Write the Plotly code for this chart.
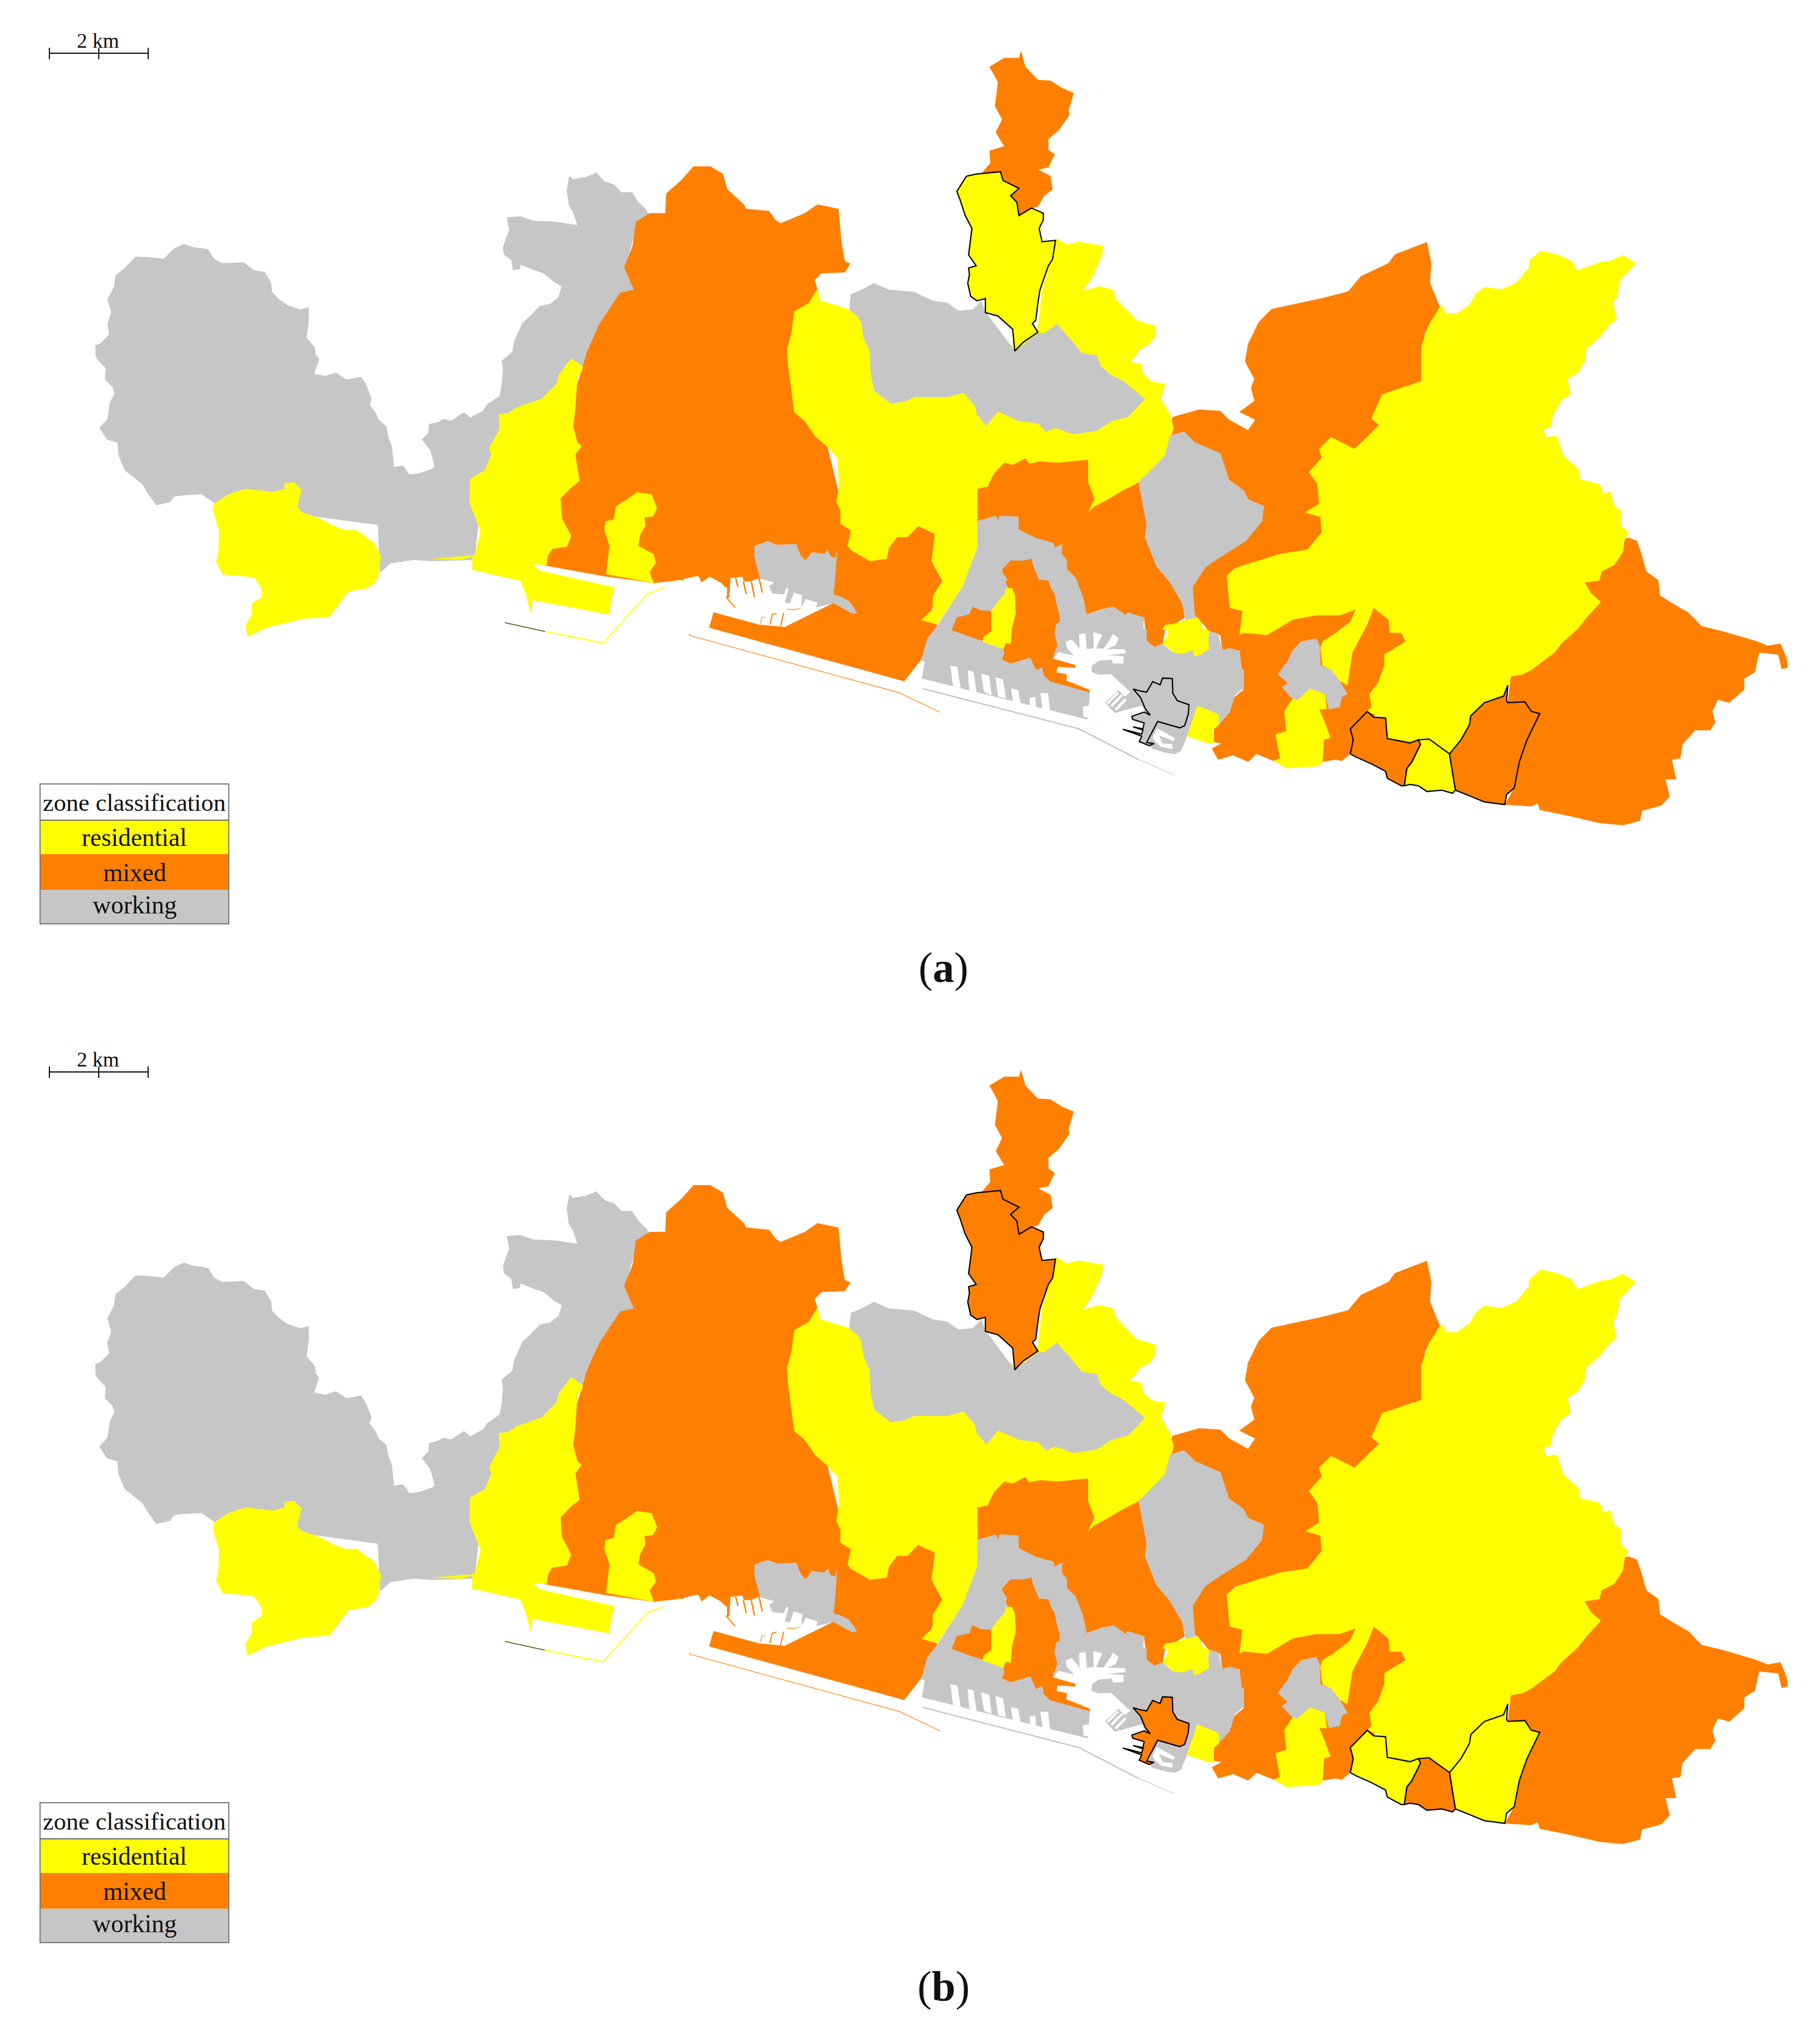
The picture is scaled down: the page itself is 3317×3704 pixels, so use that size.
import plotly.graph_objects as go

crops = {
    "A": (0, 0, 1.3067, 1.2544),
    "B": (1000, 50, 1.3067, 1.2544),
    "C": (2100, 400, 1.2884, 1.2544),
    "D": (1650, 900, 2.24, 2.613),
    "F": (900, 950, 1.742, 3.0),
    "G": (1300, 1030, 3.0, 3.0),
}

yellow = "#FFFF00"
orange = "#FF7F00"
grey = "#C6C6C6"
white = "#FFFFFF"

panel_offset = 1857
panel_captions = ["a", "b"]
legend_title = "zone classification"
legend_labels = ["residential", "mixed", "working"]
legend_colors = [yellow, orange, grey]
scale_label = "2 km"

grey_west = [(237,978),(256,958),(262,920),(273,900),(268,885),(250,868),(252,842),(236,826),(228,815),(227,790),(240,785),(260,765),(256,740),(265,715),(256,685),(272,655),(275,630),(295,615),(323,587),(350,588),(390,592),(415,568),(438,558),(460,565),(495,570),(510,592),(530,602),(580,600),(605,618),(630,622),(645,645),(648,668),(665,685),(685,698),(715,708),(735,703),(735,735),(730,772),(750,795),(752,812),(760,820),(748,855),(775,860),(800,852),(825,868),(860,862),(872,880),(885,912),(880,925),(895,945),(902,960),(920,975),(925,1000),(933,1020),(938,1065),(934,1068),(960,1065),(975,1085),(1000,1082),(1030,1072),(1035,1065),(1025,1030),(1005,1005),(1020,990),(1022,970),(1045,965),(1055,958),(1075,962),(1105,943),(1120,955),(1150,940),(1160,925),(1190,905),(1195,880),(1198,845),(1195,825),(1220,805),(1225,780),(1245,738),(1265,720),(1285,700),(1310,695),(1330,680),(1338,655),(1320,645),(1295,625),(1265,615),(1240,605),(1238,615),(1222,618),(1218,595),(1200,582),(1198,565),(1205,545),(1213,525),(1207,497),(1240,495),(1270,505),(1320,507),(1375,515),(1365,485),(1355,470),(1350,435),(1356,402),(1365,410),(1395,405),(1420,395),(1440,415),(1462,422),(1480,440),(1505,440),(1520,462),(1540,480),(1545,495),(1515,520),(1490,610),(1510,660),(1450,800),(1390,835),(1150,1100),(1130,1280),(1030,1283),(985,1280),(930,1288),(905,1310),(900,1200),(510,1150),(480,1130),(440,1132),(415,1135),(405,1148),(372,1155),(350,1125),(340,1108),(297,1075),(282,1040),(280,1012),(255,1005)]
orange_west = [(80,780),(90,745),(120,680),(170,607),(203,600),(180,548),(200,500),(208,445),(240,425),(278,425),(280,380),(315,350),(345,318),(385,318),(415,335),(425,370),(465,405),(470,415),(525,420),(540,440),(552,448),(610,425),(640,405),(690,415),(697,490),(705,535),(718,540),(705,560),(650,562),(633,578),(640,598),(620,630),(585,650),(700,1100),(720,1180),(300,1265),(250,1270),(135,1255),(-10,1230),(-10,1000),(60,840)]
orange_port = [(510,340),(555,307),(585,315),(600,325),(610,295),(650,300),(660,335),(685,302),(720,335),(735,360),(742,365),(745,400),(698,497),(684,582),(1303,875),(1355,760),(1408,572),(1390,480),(1425,330),(1395,240),(1400,40),(1100,-30),(510,-30)]
yellow_pra = [(510,1152),(545,1130),(585,1118),(650,1125),(678,1118),(678,1105),(700,1103),(718,1120),(712,1140),(708,1160),(720,1172),(760,1185),(800,1205),(825,1213),(850,1212),(880,1235),(890,1240),(907,1272),(903,1300),(900,1320),(890,1335),(875,1345),(830,1352),(800,1390),(785,1410),(720,1415),(635,1435),(590,1456),(585,1430),(600,1405),(600,1380),(625,1365),(622,1345),(605,1320),(530,1313),(515,1285),(520,1265),(522,1215),(508,1170)]
yellow_sestri = [(1120,1095),(1155,1075),(1170,1040),(1165,1025),(1190,980),(1188,948),(1210,945),(1230,932),(1290,912),(1325,878),(1332,855),(1360,820),(1388,838),(1385,850),(1375,860),(1370,935),(1365,975),(1375,1012),(1385,1020),(1370,1040),(1380,1100),(1360,1115),(1335,1140),(1338,1185),(1360,1225),(1350,1250),(1315,1255),(1305,1270),(1302,1292),(1268,1290),(1285,1305),(1462,1343),(1450,1405),(1268,1372),(1265,1400),(1255,1365),(1240,1328),(1125,1303),(1125,1272),(1100,1280),(1030,1278),(1100,1273),(1130,1270),(1145,1215),(1130,1180),(1118,1150)]
yellow_patch = [(135,1130),(155,1125),(160,1095),(185,1080),(210,1063),(245,1068),(258,1100),(248,1118),(228,1120),(230,1140),(218,1160),(213,1185),(250,1205),(255,1225),(240,1245),(250,1270),(137,1250),(145,1185),(133,1150)]
orange_north = [(1125,55),(1135,90),(1165,120),(1195,122),(1225,140),(1250,150),(1238,190),(1240,200),(1215,235),(1190,255),(1190,280),(1205,290),(1190,320),(1165,325),(1195,340),(1200,370),(1180,385),(1165,410),(1150,413),(1120,430),(1100,385),(1075,335),(1030,335),(1052,310),(1050,282),(1085,272),(1065,240),(1080,210),(1063,180),(1070,125),(1050,90),(1085,70),(1120,70)]
orange_central = [(295,-200),(1000,-200),(985,150),(980,210),(1025,345),(1080,420),(1130,520),(1140,590),(1060,650),(1050,715),(1015,730),(985,700),(975,590),(740,575),(295,130)]
orange_east = [(48,452),(110,435),(160,438),(180,458),(225,482),(242,458),(205,440),(240,415),(232,385),(240,365),(218,325),(225,285),(250,235),(280,205),(400,180),(460,165),(490,130),(555,100),(570,80),(645,52),(655,100),(652,145),(675,200),(640,260),(632,370),(600,600),(600,960),(515,1150),(465,1222),(445,1238),(430,1235),(400,1240),(390,1250),(285,1238),(245,1222),(225,1240),(190,1225),(155,1235),(140,1210),(163,1198),(145,1195),(145,1165),(178,1130),(190,1095),(215,1075),(205,985),(165,985),(160,950),(135,945),(120,925),(100,905),(92,840),(0,600)]
orange_far_east = [(842,1045),(870,1040),(890,1030),(945,990),(960,970),(1000,935),(1020,910),(1053,875),(1030,855),(1015,830),(1050,825),(1055,805),(1085,790),(1105,760),(1110,730),(1118,728),(1138,735),(1150,770),(1160,805),(1188,825),(1192,860),(1225,880),(1260,900),(1290,930),(1340,942),(1420,965),(1445,975),(1475,970),(1490,1005),(1492,1025),(1478,1028),(1470,995),(1425,990),(1415,1035),(1390,1050),(1390,1075),(1355,1105),(1328,1098),(1315,1125),(1322,1150),(1310,1168),(1275,1168),(1245,1200),(1240,1232),(1220,1235),(1230,1280),(1205,1280),(1215,1320),(1195,1340),(1150,1352),(1145,1375),(1105,1385),(1050,1380),(985,1365),(910,1350),(905,1335),(890,1342),(828,1338),(850,1300),(862,1240),(880,1190),(910,1130),(890,1125),(875,1103),(835,1105)]
yellow_central = [(640,598),(648,625),(715,645),(1040,700),(1110,730),(1165,690),(1175,600),(1200,520),(1210,483),(1235,497),(1262,490),(1320,500),(1318,520),(1295,570),(1272,603),(1310,592),(1345,600),(1350,620),(1385,655),(1400,670),(1445,683),(1445,705),(1430,725),(1410,735),(1385,765),(1412,770),(1415,790),(1435,810),(1468,815),(1458,850),(1480,885),(1488,915),(1475,965),(1468,983),(1405,1040),(1365,1060),(1330,1080),(1300,1095),(1285,1108),(1300,1078),(1285,1040),(1285,988),(1215,995),(1170,992),(1145,997),(1135,985),(1105,1000),(1085,995),(1060,1020),(1045,1050),(1020,1055),(1022,1185),(985,1280),(925,1365),(888,1355),(915,1330),(915,1300),(938,1265),(912,1220),(920,1158),(880,1140),(855,1165),(830,1165),(810,1190),(805,1215),(765,1220),(720,1195),(712,1185),(720,1150),(695,1135),(695,1105),(685,1085),(692,1050),(688,985),(665,960),(635,935),(610,900),(585,880),(578,830),(570,770),(568,735),(578,700),(585,650),(620,630)]
yellow_east = [(680,195),(690,215),(715,215),(745,195),(760,170),(780,155),(820,160),(855,145),(885,110),(885,95),(912,72),(950,80),(985,95),(998,117),(1055,97),(1075,95),(1105,82),(1135,100),(1110,128),(1100,135),(1090,180),(1082,190),(1090,228),(1075,240),(1050,270),(1020,295),(1015,325),(1000,350),(975,365),(982,400),(960,415),(940,450),(935,475),(918,480),(925,498),(950,495),(965,540),(1000,570),(1005,595),(1050,605),(1060,628),(1075,622),(1085,655),(1100,665),(1100,700),(1118,715),(1108,735),(1105,760),(1085,790),(1055,805),(1050,825),(1015,830),(1030,855),(1053,875),(1020,910),(1000,935),(960,970),(945,990),(890,1030),(870,1040),(842,1045),(838,1065),(825,1090),(780,1105),(748,1135),(745,1155),(725,1190),(698,1222),(650,1188),(625,1190),(605,1195),(552,1187),(545,1140),(505,1125),(515,1115),(510,1085),(530,1060),(545,1020),(545,995),(595,965),(585,945),(558,945),(555,915),(520,888),(505,925),(470,990),(458,1065),(440,1055),(420,1030),(400,1020),(395,980),(400,965),(425,950),(465,920),(478,892),(440,905),(385,905),(330,915),(270,950),(215,945),(205,950),(212,895),(182,888),(175,815),(195,797),(300,765),(365,755),(398,715),(395,680),(360,670),(392,650),(388,605),(368,578),(398,545),(392,525),(420,498),(475,525),(533,470),(515,455),(540,400),(632,370),(632,290),(650,240)]
grey_hills = [(716,645),(720,610),(745,600),(775,585),(810,600),(870,605),(915,625),(950,630),(975,648),(1010,645),(1030,625),(1040,650),(1110,740),(1165,700),(1180,700),(1210,678),(1240,710),(1270,745),(1305,750),(1315,775),(1335,792),(1370,810),(1420,850),(1380,890),(1340,900),(1305,922),(1250,930),(1205,915),(1185,925),(1165,905),(1120,900),(1070,878),(1043,910),(1020,885),(1015,865),(988,835),(950,845),(870,845),(850,855),(815,860),(775,830),(767,790),(765,740),(750,710),(745,675),(735,660)]
grey_bisagno = [(0,570),(30,540),(42,495),(75,485),(100,510),(160,535),(180,595),(215,620),(225,640),(262,655),(258,690),(220,735),(160,772),(125,795),(95,840),(100,905),(120,925),(80,925),(76,903),(70,877),(41,829),(10,793),(-17,727),(-13,699),(-32,601)]
grey_lobe = [(295,1040),(318,1010),(330,985),(350,965),(385,958),(393,975),(395,1020),(420,1030),(440,1055),(458,1085),(445,1092),(440,1115),(415,1120),(405,1085),(370,1073),(340,1100),(325,1092),(305,1070),(318,1060)]
grey_harbour = [(295,130),(370,105),(378,130),(385,105),(462,110),(462,170),(530,210),(605,235),(610,258),(640,240),(638,285),(660,320),(660,360),(695,400),(725,490),(740,575),(800,550),(850,538),(900,578),(907,565),(975,590),(970,640),(985,650),(985,700),(1015,730),(1050,715),(1090,755),(1130,762),(1175,745),(1180,775),(1235,740),(1240,655),(1275,665),(1295,745),(1325,735),(1365,750),(1370,830),(1382,840),(1382,925),(1345,960),(1325,1040),(1280,1100),(1255,1125),(1150,1155),(1125,1225),(1100,1240),(1060,1232),(1010,1215),(985,1190),(745,1075),(68,880),(80,800),(65,795),(90,690),(130,630),(235,440),(295,255)]
orange_samp = [(600,785),(695,815),(695,830),(622,825),(618,850),(660,860),(655,890),(755,930),(750,945),(590,893),(565,865),(560,825),(535,840),(510,780),(430,808),(395,790),(405,760),(400,740),(415,710),(430,715),(435,640),(450,570),(440,470),(420,450),(410,420),(418,410),(397,375),(397,360),(430,318),(480,320),(515,310),(520,340),(545,410),(585,415),(590,440),(610,480),(615,520),(630,580),(630,610),(615,620),(608,665),(620,720)]
yellow_samp = [(410,450),(435,450),(447,480),(450,570),(435,640),(430,715),(408,710),(400,740),(315,705),(320,680),(350,655),(350,560),(380,510),(405,480)]
orange_small = [(210,590),(262,575),(275,538),(305,555),(350,560),(350,655),(320,680),(315,700),(275,685),(190,650)]
yellow_foce = [(1095,620),(1150,600),(1195,590),(1215,640),(1243,655),(1235,685),(1240,740),(1205,765),(1180,775),(1175,745),(1130,762),(1090,755),(1085,745),(1052,715),(1072,670),(1072,648),(1050,648),(1060,625)]
yellow_shore = [(1192,1010),(1280,1052),(1280,1100),(1255,1125),(1258,1190),(1240,1190),(1150,1155)]
yellow_albaro = [(310,1125),(330,1095),(340,1100),(370,1073),(405,1085),(410,1120),(392,1120),(405,1150),(418,1185),(403,1190),(400,1240),(390,1250),(315,1255),(285,1238),(300,1232),(290,1178),(315,1170)]

# white cut-outs: docks and piers
dock_main = [(625,755),(690,772),(660,735),(655,705),(680,695),(712,740),(710,670),(735,665),(740,740),(770,738),(768,660),(803,672),(778,738),(810,738),(838,690),(848,668),(870,690),(858,722),(820,740),(895,742),(900,760),(820,768),(890,775),(890,808),(848,808),(842,790),(790,795),(760,820),(760,850),(790,862),(840,860),(918,945),(895,965),(870,935),(815,995),(855,1045),(965,1010),(975,1030),(985,1060),(1030,1085),(985,1195),(745,1075),(755,935),(660,890),(660,860),(618,850),(622,825),(695,830),(695,815),(605,785)]
dock_west = [(95,72),(125,68),(160,65),(165,90),(205,90),(250,72),(335,95),(500,100),(655,207),(620,225),(550,260),(500,285),(430,320),(390,338),(250,325),(0,257),(0,180),(88,180)]
pier_1 = [(185,820),(212,825),(225,925),(195,915)]
pier_2 = [(255,842),(278,848),(290,945),(262,935)]
pier_3 = [(310,858),(342,868),(352,958),(322,945)]
pier_4 = [(368,875),(398,885),(410,975),(380,965)]
pier_5 = [(432,928),(460,935),(470,1000),(440,990)]
pier_6 = [(508,972),(530,968),(535,1030),(510,1018)]
pier_7 = [(552,950),(582,950),(590,1035),(562,1035)]
pier_8 = [(725,1015),(750,1010),(745,1065),(728,1062)]
stripe_1 = [(822,995),(866,945),(872,950),(828,1002)]
stripe_2 = [(838,1008),(882,955),(888,962),(844,1016)]
stripe_3 = [(856,1024),(896,975),(902,985),(862,1032)]
stripe_4 = [(1028,1118),(1100,1165),(1095,1178),(1035,1150),(1050,1190),(1090,1195),(1090,1215),(1045,1205),(1020,1180),(1010,1160)]

grey_sestri_docks = [(226,-45),(226,-105),(298,-130),(350,-110),(453,-115),(479,-50),(505,-25),(539,-70),(608,-60),(625,-85),(643,-45),(668,-40),(677,-75),(658,162),(700,175),(740,195),(770,235),(785,265),(755,262),(655,207),(630,215),(565,230),(570,205),(505,185),(482,228),(487,165),(440,150),(418,210),(392,205),(412,128),(400,125),(386,160),(325,155),(305,115),(335,95),(255,70)]

# outlined zones, they change class between the two panels
zone_rivarolo = [(995,340),(1020,335),(1076,330),(1082,350),(1120,368),(1100,385),(1115,400),(1120,430),(1150,413),(1178,425),(1178,440),(1168,460),(1175,490),(1207,487),(1200,530),(1190,545),(1170,600),(1165,630),(1160,670),(1152,677),(1165,697),(1130,720),(1110,740),(1105,690),(1070,660),(1040,652),(1040,620),(1020,625),(1005,615),(998,585),(1002,565),(1000,550),(1018,545),(1000,520),(1008,460),(992,430),(980,395),(972,375)]
zone_port = [(930,930),(960,940),(985,945),(1010,895),(1040,910),(1050,878),(1090,880),(1092,950),(1110,985),(1158,1005),(1155,1050),(1140,1105),(1120,1115),(1030,1085),(985,1185),(1015,1190),(995,1200),(955,1180),(965,1155),(888,1122),(965,1145),(970,1125),(930,1110),(970,1120),(975,1092),(928,1075),(925,1060),(975,1040),(1000,1055),(980,1025),(960,970)]
zone_sturla = [(465,1222),(472,1190),(465,1165),(505,1125),(520,1138),(548,1140),(552,1187),(605,1197),(625,1190),(630,1200),(610,1240),(598,1255),(592,1295),(585,1295),(552,1278),(548,1262),(515,1245),(480,1230)]
zone_quarto = [(592,1295),(598,1255),(610,1240),(630,1200),(625,1190),(650,1188),(698,1222),(712,1305),(705,1312),(680,1305),(645,1308),(625,1295),(605,1292)]
zone_quinto = [(698,1222),(725,1190),(745,1155),(748,1135),(780,1105),(825,1090),(835,1065),(832,1100),(835,1105),(875,1103),(890,1125),(910,1130),(880,1190),(862,1240),(850,1300),(832,1315),(828,1338),(780,1332),(750,1320),(712,1305)]

# thin breakwaters and jetties
line_yellow = [(162,603),(347,667),(488,398),(540,365)]
line_sliver = [(105,420),(120,505)]
line_black = [(35,555),(162,603)]
line_orange = [(622,615),(622,625),(1287,938),(1417,1045)]
line_grey = [(70,928),(710,1120),(950,1265)]
line_grey_end = [(950,1265),(1100,1340)]
jetty_1 = [(78,125),(78,185),(120,232)]
jetty_2 = [(258,320),(265,285),(285,285)]
jetty_3 = [(310,325),(322,270),(345,265)]
jetty_4 = [(368,335),(385,262)]
jetty_5 = [(403,241),(440,245),(478,237)]
jetty_6 = [(122,70),(135,120)]
jetty_7 = [(165,90),(180,160)]
jetty_8 = [(208,90),(225,175)]
jetty_9 = [(250,72),(268,150)]

# paint order matters, later zones sit on top of earlier ones
fill_layers = [
    ("A", grey_west, grey), ("B", orange_west, orange), ("F", orange_port, orange),
    ("A", yellow_pra, yellow), ("A", yellow_sestri, yellow), ("B", yellow_patch, yellow),
    ("B", orange_north, orange), ("D", orange_central, orange),
    ("C", orange_east, orange), ("C", orange_far_east, orange),
    ("B", yellow_central, yellow), ("C", yellow_east, yellow),
    ("B", grey_hills, grey), ("D", grey_harbour, grey), ("C", grey_bisagno, grey),
    ("D", orange_samp, orange), ("D", yellow_samp, yellow), ("D", orange_small, orange),
    ("D", yellow_foce, yellow), ("D", yellow_shore, yellow),
    ("C", grey_lobe, grey), ("C", yellow_albaro, yellow),
    ("D", dock_main, white), ("G", dock_west, white), ("G", grey_sestri_docks, grey),
    ("D", pier_1, white), ("D", pier_2, white), ("D", pier_3, white), ("D", pier_4, white),
    ("D", pier_5, white), ("D", pier_6, white), ("D", pier_7, white), ("D", pier_8, white),
    ("D", stripe_1, white), ("D", stripe_2, white), ("D", stripe_3, white), ("D", stripe_4, white),
]
line_layers = [
    ("F", line_yellow, yellow, 2), ("F", line_sliver, yellow, 1.5), ("F", line_black, "#4A4A00", 1.5),
    ("F", line_orange, orange, 1.2), ("D", line_grey, grey, 2.5), ("D", line_grey_end, grey, 1.2),
    ("G", jetty_1, orange, 2), ("G", jetty_2, orange, 1.2), ("G", jetty_3, orange, 2),
    ("G", jetty_4, orange, 2), ("G", jetty_5, orange, 1.2), ("G", jetty_6, orange, 2.5),
    ("G", jetty_7, orange, 2.5), ("G", jetty_8, orange, 2.5), ("G", jetty_9, orange, 2.5),
]
# crop, outline, colour in (a), colour in (b)
outlined_zones = [
    ("B", zone_rivarolo, yellow, orange),
    ("D", zone_port, grey, orange),
    ("C", zone_sturla, orange, yellow),
    ("C", zone_quarto, yellow, orange),
    ("C", zone_quinto, orange, yellow),
]


def project(crop, points, dy):
    x0, y0, sx, sy = crops[crop]
    xs = [x0 + p[0] / sx for p in points]
    ys = [y0 + p[1] / sy + dy for p in points]
    return xs, ys


fig = go.Figure()


def add_fill(crop, points, color, dy, outline=False):
    xs, ys = project(crop, points, dy)
    fig.add_trace(
        go.Scatter(
            x=xs + xs[:1],
            y=ys + ys[:1],
            mode="lines",
            fill="toself",
            fillcolor=color,
            line=dict(color="black" if outline else color, width=2.3 if outline else 0.5),
            hoverinfo="skip",
            showlegend=False,
        )
    )


for panel, caption in enumerate(panel_captions):
    dy = panel * panel_offset
    for crop, points, color in fill_layers:
        add_fill(crop, points, color, dy)
    for crop, points, color, width in line_layers:
        xs, ys = project(crop, points, dy)
        fig.add_trace(
            go.Scatter(
                x=xs, y=ys, mode="lines", line=dict(color=color, width=width),
                hoverinfo="skip", showlegend=False,
            )
        )
    for zone in outlined_zones:
        add_fill(zone[0], zone[1], zone[2 + panel], dy, outline=True)

    # scale bar
    fig.add_shape(type="line", x0=90, x1=270, y0=97 + dy, y1=97 + dy, line=dict(color="black", width=2))
    for tick_x in [90, 180, 270]:
        fig.add_shape(type="line", x0=tick_x, x1=tick_x, y0=87 + dy, y1=108 + dy, line=dict(color="black", width=2))
    fig.add_annotation(x=178, y=74 + dy, text=scale_label, showarrow=False, font=dict(size=38))

    # legend box
    row_edges = [1495, 1557, 1622, 1684]
    for i, label in enumerate(legend_labels):
        fig.add_shape(type="rect", x0=73, x1=417, y0=row_edges[i] + dy, y1=row_edges[i + 1] + dy,
                      fillcolor=legend_colors[i], line=dict(width=0))
    fig.add_shape(type="rect", x0=73, x1=417, y0=1429 + dy, y1=1684 + dy, line=dict(color="#777777", width=2))
    fig.add_shape(type="line", x0=73, x1=417, y0=1495 + dy, y1=1495 + dy, line=dict(color="#666666", width=2))
    fig.add_annotation(x=245, y=1463 + dy, text=legend_title, showarrow=False, font=dict(size=45))
    row_text_y = [1526, 1590, 1649]
    for i, label in enumerate(legend_labels):
        fig.add_annotation(x=245, y=row_text_y[i] + dy, text=label, showarrow=False, font=dict(size=46))

    fig.add_annotation(x=1719, y=1763 + dy, text=f"(<b>{caption}</b>)", showarrow=False, font=dict(size=78))

fig.update_xaxes(range=[0, 3317], visible=False)
fig.update_yaxes(range=[3704, 0], visible=False)
fig.update_layout(
    width=3317,
    height=3704,
    margin=dict(t=0, l=0, r=0, b=0),
    paper_bgcolor="white",
    plot_bgcolor="white",
    font=dict(family="Liberation Serif", color="#111111"),
    showlegend=False,
)

fig.write_html("out.html", config={"displayModeBar": False}, post_script="document.body.style.margin='0';")
